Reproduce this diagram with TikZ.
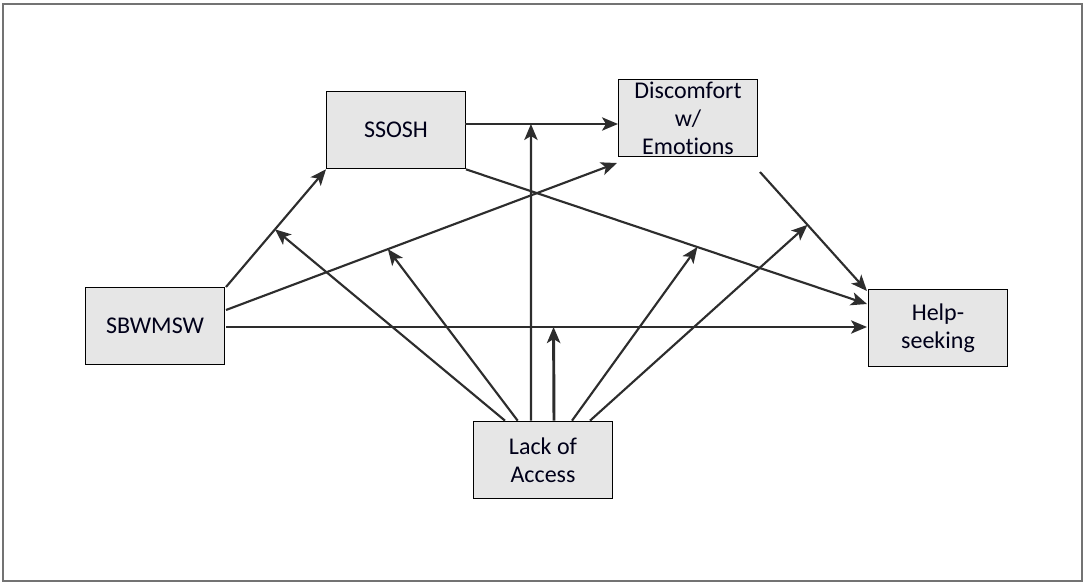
\documentclass[tikz,border=0pt]{standalone}
\usepackage{fontspec}
\setmainfont{Carlito}[RawFeature={-liga}]
\usetikzlibrary{arrows.meta}
\definecolor{boxfill}{RGB}{230,230,230}
\definecolor{linecol}{RGB}{45,45,45}
\begin{document}
\begin{tikzpicture}[x=0.75pt,y=-0.75pt,
  box/.style={draw=black,line width=1pt,fill=boxfill,minimum width=104pt,minimum height=58pt,
    inner sep=0pt,align=center,font=\fontsize{18}{21}\selectfont,text=black!90!blue},
  conn/.style={draw=linecol,line width=1.6pt,-{Stealth[length=12pt,width=10pt,inset=3pt]}},
  mod/.style={conn}]
\useasboundingbox (0,0) rectangle (1086,585);
\draw[draw=black!55,line width=1.5pt] (3,4) rectangle (1082,581);
% nodes
\node[box] (ss) at (396,130) {SSOSH};
\node[box] (di) at (688,118) {Discomfort\\w/\\Emotions};
\node[box] (sb) at (155,326) {SBWMSW};
\node[box] (hs) at (938,328) {Help-\\seeking};
\node[box] (la) at (543,460) {Lack of\\Access};
% coordinates on box borders
\coordinate (sbA) at (226,287);
\coordinate (sbB) at (226,310);
\coordinate (sbC) at (226,327);
\coordinate (diB) at (617,163);
\coordinate (diC) at (760,172);
\coordinate (hsA) at (867,291);
\coordinate (hsB) at (867,304);
\coordinate (hsC) at (867,327);
\coordinate (ssA) at (465,124);
\coordinate (diA) at (618,124);
% main paths
\draw[conn] (sbA) -- (ss.south west) coordinate[pos=0.49] (m1);
\draw[conn] (sbB) -- (diB) coordinate[pos=0.414] (m2);
\draw[conn] (sbC) -- (hsC) coordinate[pos=0.511] (m3);
\draw[conn] (ssA) -- (diA) coordinate[pos=0.431] (m4);
\draw[conn] (ss.south east) -- (hsB) coordinate[pos=0.577] (m5);
\draw[conn] (diC) -- (hsA) coordinate[pos=0.444] (m6);
% moderator paths
\draw[mod] ([xshift=-28.5pt]la.north) -- (m1);
\draw[mod] ([xshift=-19pt]la.north) -- (m2);
\draw[mod] ([xshift=-9pt]la.north) -- (m4);
\draw[mod,line width=2.2pt] ([xshift=8.25pt]la.north) -- (m3);
\draw[mod] ([xshift=21.75pt]la.north) -- (m5);
\draw[mod] ([xshift=35.25pt]la.north) -- (m6);
\end{tikzpicture}
\end{document}
